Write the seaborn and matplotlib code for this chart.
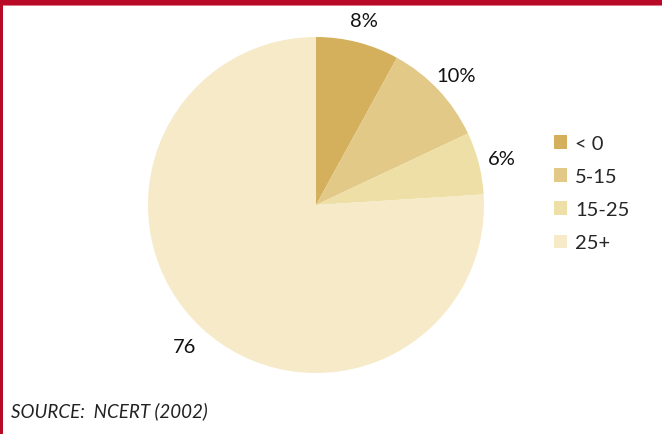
import matplotlib
matplotlib.use("Agg")
import matplotlib.pyplot as plt
from matplotlib.patches import Patch, Rectangle
import seaborn as sns

# Share of values by range
categories = ["< 0", "5-15", "15-25", "25+"]
shares = [8, 10, 6, 76]
slice_labels = ["8%", "10%", "6%", "76"]
colors = ["#D5B05C", "#E2C988", "#EDDFA5", "#F6EAC8"]
source_text = "SOURCE:  NCERT (2002)"

sns.set_theme(style="white")
plt.rcParams["font.family"] = ["Lato", "DejaVu Sans"]

W, H = 662, 435
fig = plt.figure(figsize=(W / 100, H / 100), dpi=100)
fig.patch.set_facecolor("white")

# Pie: centre (316, 206) px, radius 168 px; pie() sets limits to +/-1.25
R = 168
cx, cy = 316, H - 206
side = 2.5 * R
ax = fig.add_axes([(cx - side / 2) / W, (cy - side / 2) / H, side / W, side / H])
wedges, texts = ax.pie(
    shares,
    labels=slice_labels,
    colors=colors,
    startangle=90,
    counterclock=False,
    labeldistance=1.14,
    wedgeprops=dict(linewidth=0),
    textprops=dict(fontsize=14.5, color="#111111", ha="center",
                   va="center_baseline"),
)

# Legend
handles = [Patch(facecolor=c, edgecolor="none") for c in colors]
fig.legend(
    handles, categories,
    loc="upper left",
    bbox_to_anchor=(546 / W, 1 - 128 / H),
    frameon=False,
    fontsize=14.5,
    handlelength=0.65,
    handleheight=0.65,
    handletextpad=0.4,
    labelspacing=0.8,
    borderaxespad=0,
)

# Source note
fig.text(11 / W, 1 - 411 / H, source_text, fontsize=13.5, style="italic",
         color="#222222", ha="left", va="center")

# Frame: thick red bar on top, thin red line on the left
red = "#B80A26"
fig.patches.append(Rectangle((0, 1 - 6 / H), 1, 6 / H, transform=fig.transFigure,
                             facecolor=red, edgecolor="none", zorder=10))
fig.patches.append(Rectangle((0, 1 - 7 / H), 1, 1 / H, transform=fig.transFigure,
                             facecolor="#E07A8A", edgecolor="none", zorder=10))
fig.patches.append(Rectangle((0, 0), 2.5 / W, 1, transform=fig.transFigure,
                             facecolor=red, edgecolor="none", zorder=10))

fig.savefig("out.png", dpi=100)
